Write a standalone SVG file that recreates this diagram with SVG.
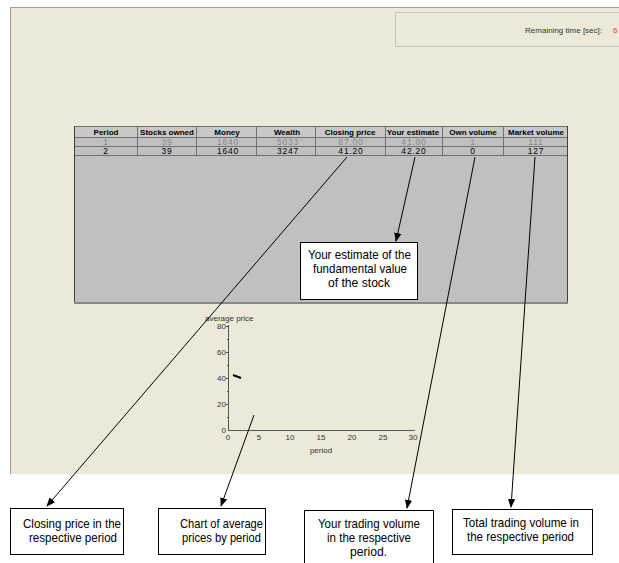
<svg xmlns="http://www.w3.org/2000/svg" width="619" height="563" viewBox="0 0 619 563">
<defs>
<marker id="ah" viewBox="0 0 10 10" refX="9" refY="5" markerWidth="9" markerHeight="9" markerUnits="userSpaceOnUse" orient="auto">
<path d="M0,1 L10,5 L0,9 Z" fill="#000"/>
</marker>
<style>
.t{font-family:"Liberation Sans",Arial,sans-serif;}
.hd{font-size:8px;font-weight:bold;text-anchor:middle;fill:#000;}
.r1{font-size:8.5px;text-anchor:middle;fill:#888;letter-spacing:0.8px;}
.r2{font-size:8.5px;text-anchor:middle;fill:#000;letter-spacing:0.8px;}
.ax{font-size:8px;fill:#333;}
.cb{font-size:13.5px;fill:#000;}
.box{fill:#fff;stroke:#000;stroke-width:1;}
.conn{stroke:#000;stroke-width:1;fill:none;marker-end:url(#ah);}
</style>
</defs>
<rect x="0" y="0" width="619" height="563" fill="#fff"/>
<g id="panel">
<rect x="10" y="7" width="609" height="467" fill="#ECE9D8"/>
<line x1="10" y1="7.5" x2="619" y2="7.5" stroke="#A0A090" stroke-width="1"/>
<line x1="10.5" y1="7" x2="10.5" y2="474" stroke="#A0A090" stroke-width="1"/>
<rect x="395.5" y="12.5" width="230" height="34" fill="none" stroke="#C8C5B5"/>
<text class="t" x="602" y="33" font-size="8" fill="#333" text-anchor="end">Remaining time [sec]:</text>
<text class="t" x="613" y="33" font-size="8" fill="#f04040">6</text>
</g>
<g id="table">
<rect x="74" y="126" width="494" height="178" fill="#C0C0C0"/>
<rect x="74" y="126" width="494" height="11" fill="#C8C8C8"/>
<g stroke="#707070" stroke-width="1">
<line x1="74" y1="126.5" x2="568" y2="126.5"/>
<line x1="74" y1="137.5" x2="568" y2="137.5"/>
<line x1="74" y1="146.5" x2="568" y2="146.5"/>
<line x1="74" y1="155.5" x2="568" y2="155.5"/>
<line x1="137.5" y1="126" x2="137.5" y2="155"/>
<line x1="196.5" y1="126" x2="196.5" y2="155"/>
<line x1="256.5" y1="126" x2="256.5" y2="155"/>
<line x1="315.5" y1="126" x2="315.5" y2="155"/>
<line x1="385.5" y1="126" x2="385.5" y2="155"/>
<line x1="442.5" y1="126" x2="442.5" y2="155"/>
<line x1="503.5" y1="126" x2="503.5" y2="155"/>
</g>
<line x1="74.5" y1="126" x2="74.5" y2="304" stroke="#404040"/>
<line x1="567.5" y1="126" x2="567.5" y2="304" stroke="#404040"/>
<line x1="74" y1="303" x2="568" y2="303" stroke="#888" stroke-width="2"/>
<g class="t">
<text class="hd" x="106" y="135">Period</text>
<text class="hd" x="167" y="135">Stocks owned</text>
<text class="hd" x="227" y="135">Money</text>
<text class="hd" x="287" y="135">Wealth</text>
<text class="hd" x="350" y="135">Closing price</text>
<text class="hd" x="413" y="135">Your estimate</text>
<text class="hd" x="473" y="135">Own volume</text>
<text class="hd" x="536" y="135">Market volume</text>
<text class="r1" x="106" y="145">1</text>
<text class="r1" x="167" y="145">39</text>
<text class="r1" x="228" y="145">1640</text>
<text class="r1" x="288" y="145">5033</text>
<text class="r1" x="351" y="145">87.00</text>
<text class="r1" x="414" y="145">41.00</text>
<text class="r1" x="473" y="145">1</text>
<text class="r1" x="536" y="145">111</text>
<text class="r2" x="106" y="154">2</text>
<text class="r2" x="167" y="154">39</text>
<text class="r2" x="228" y="154">1640</text>
<text class="r2" x="288" y="154">3247</text>
<text class="r2" x="351" y="154">41.20</text>
<text class="r2" x="414" y="154">42.20</text>
<text class="r2" x="473" y="154">0</text>
<text class="r2" x="536" y="154">127</text>
</g>
</g>
<g id="chart">
<g stroke="#555" stroke-width="1">
<line x1="228.5" y1="325" x2="228.5" y2="430"/>
<line x1="228" y1="430.5" x2="415" y2="430.5"/>
<line x1="226" y1="326.5" x2="229" y2="326.5"/>
<line x1="226" y1="352.5" x2="229" y2="352.5"/>
<line x1="226" y1="378.5" x2="229" y2="378.5"/>
<line x1="226" y1="404.5" x2="229" y2="404.5"/>
<line x1="227" y1="339.5" x2="229" y2="339.5"/>
<line x1="227" y1="365.5" x2="229" y2="365.5"/>
<line x1="227" y1="391.5" x2="229" y2="391.5"/>
<line x1="227" y1="417.5" x2="229" y2="417.5"/>
</g>
<g class="t ax">
<text x="205" y="321">average price</text>
<text x="226" y="329" text-anchor="end">80</text>
<text x="226" y="355" text-anchor="end">60</text>
<text x="226" y="381" text-anchor="end">40</text>
<text x="226" y="407" text-anchor="end">20</text>
<text x="226" y="433" text-anchor="end">0</text>
<text x="228" y="440" text-anchor="middle">0</text>
<text x="259" y="440" text-anchor="middle">5</text>
<text x="290" y="440" text-anchor="middle">10</text>
<text x="321" y="440" text-anchor="middle">15</text>
<text x="352" y="440" text-anchor="middle">20</text>
<text x="383" y="440" text-anchor="middle">25</text>
<text x="413" y="440" text-anchor="middle">30</text>
<text x="321" y="453" text-anchor="middle">period</text>
</g>
<polyline points="233,375 241,378" stroke="#000" stroke-width="2" fill="none"/>
</g>
<g id="connectors">
<line class="conn" x1="347" y1="157" x2="47" y2="506"/>
<line class="conn" x1="415" y1="157" x2="396" y2="241"/>
<line class="conn" x1="475" y1="157" x2="407" y2="508"/>
<line class="conn" x1="535" y1="157" x2="511" y2="507"/>
<line class="conn" x1="254" y1="415" x2="221" y2="506"/>
</g>
<g id="estimate">
<rect class="box" x="300.5" y="242.5" width="117" height="57"/>
<text class="t cb" x="308" y="259" textLength="103" lengthAdjust="spacingAndGlyphs">Your estimate of the</text>
<text class="t cb" x="313" y="273" textLength="94" lengthAdjust="spacingAndGlyphs">fundamental value</text>
<text class="t cb" x="328" y="287" textLength="62" lengthAdjust="spacingAndGlyphs">of the stock</text>
</g>
<g id="closing">
<rect class="box" x="10.5" y="508.5" width="113" height="46"/>
<text class="t cb" x="23" y="528" textLength="98" lengthAdjust="spacingAndGlyphs">Closing price in the</text>
<text class="t cb" x="29" y="542" textLength="88" lengthAdjust="spacingAndGlyphs">respective period</text>
</g>
<g id="chartnote">
<rect class="box" x="158.5" y="508.5" width="107" height="46"/>
<text class="t cb" x="180" y="528" textLength="83" lengthAdjust="spacingAndGlyphs">Chart of average</text>
<text class="t cb" x="182" y="542" textLength="79" lengthAdjust="spacingAndGlyphs">prices by period</text>
</g>
<g id="ownvol">
<path d="M304.5,563 V510.5 H433.5 V563" fill="#fff" stroke="#000"/>
<text class="t cb" x="318" y="528" textLength="102" lengthAdjust="spacingAndGlyphs">Your trading volume</text>
<text class="t cb" x="327" y="542" textLength="84" lengthAdjust="spacingAndGlyphs">in the respective</text>
<text class="t cb" x="350" y="556" textLength="37" lengthAdjust="spacingAndGlyphs">period.</text>
</g>
<g id="marketvol">
<rect class="box" x="452.5" y="509.5" width="140" height="45"/>
<text class="t cb" x="463" y="527" textLength="116" lengthAdjust="spacingAndGlyphs">Total trading volume in</text>
<text class="t cb" x="467" y="541" textLength="107" lengthAdjust="spacingAndGlyphs">the respective period</text>
</g>
</svg>
